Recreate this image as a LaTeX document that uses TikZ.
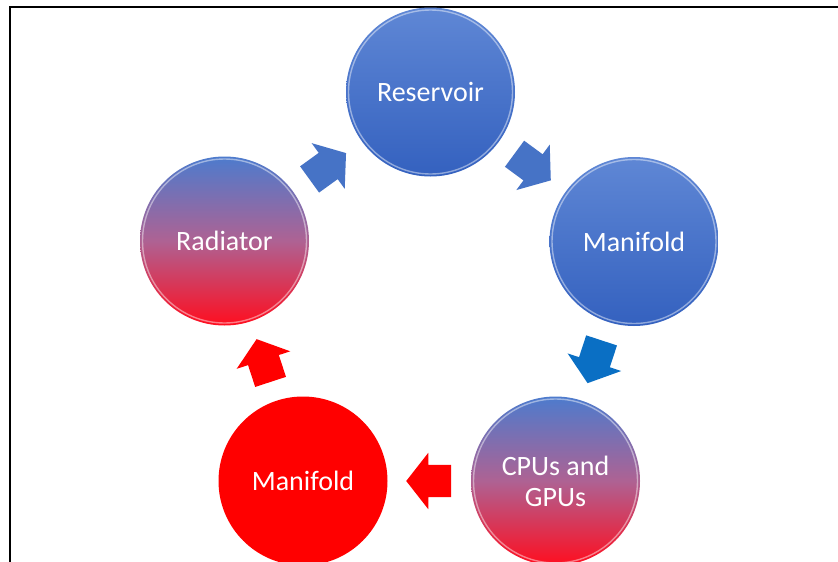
\documentclass[tikz,border=0pt]{standalone}
\usepackage{fontspec}
\setmainfont{Carlito}
\usetikzlibrary{calc,shapes.arrows}
\definecolor{cblueT}{HTML}{5F87D5}
\definecolor{cblueB}{HTML}{3461BF}
\definecolor{mixT}{HTML}{4D7BCD}
\definecolor{mixM}{HTML}{AE6293}
\definecolor{mixB}{HTML}{FF0D1F}
\definecolor{arrowblue}{HTML}{4673C6}
\definecolor{arrowdeep}{HTML}{0A6FC4}
\definecolor{hotred}{HTML}{FF0000}
\tikzset{
  stage/.style={circle, minimum size=169pt, inner sep=0pt, text=white,
    font=\fontsize{28}{31}\selectfont, align=center},
  bluestage/.style={stage, top color=cblueT, bottom color=cblueB},
  mixstage/.style={stage, top color=mixT, bottom color=mixB, middle color=mixM},
  redstage/.style={stage, fill=hotred},
  rim/.style={draw=white, opacity=0.45, line width=1.4pt},
  flow/.style={single arrow, draw=none, minimum height=45pt, minimum width=0pt,
    single arrow head extend=12pt, single arrow tip angle=104,
    inner xsep=0pt, inner ysep=16pt, font=\fontsize{1}{1}\selectfont,
    pos=0.43, sloped, allow upside down},
  frame/.style={line width=2.5pt, black}
}
\begin{document}
\begin{tikzpicture}[x=1pt,y=-1pt]
\useasboundingbox (0,0) rectangle (838,562);
\clip (0,0) rectangle (838,562);
\fill[white] (0,0) rectangle (838,562);
\draw[frame] (10,570) -- (10,7) -- (845,7);

\node[bluestage] (res) at (430.5,92) {Reservoir};
\node[bluestage] (manb) at (634,241.5) {Manifold};
\node[mixstage] (cpu) at (555.5,481) {CPUs and\\GPUs};
\node[redstage] (manr) at (303,481) {Manifold};
\node[mixstage] (rad) at (224.5,241) {Radiator};

\foreach \n in {res,manb,cpu,rad}
  \draw[rim] (\n.center) circle (82pt);

\path (rad) -- (res) node[flow, fill=arrowblue] (f1) {};
\path (res) -- (manb) node[flow, fill=arrowblue] (f2) {};
\path (manb) -- (cpu) node[flow, fill=arrowdeep] (f3) {};
\path (cpu) -- (manr) node[flow, fill=hotred] (f4) {};
\path (manr) -- (rad) node[flow, fill=hotred] (f5) {};
\end{tikzpicture}
\end{document}
